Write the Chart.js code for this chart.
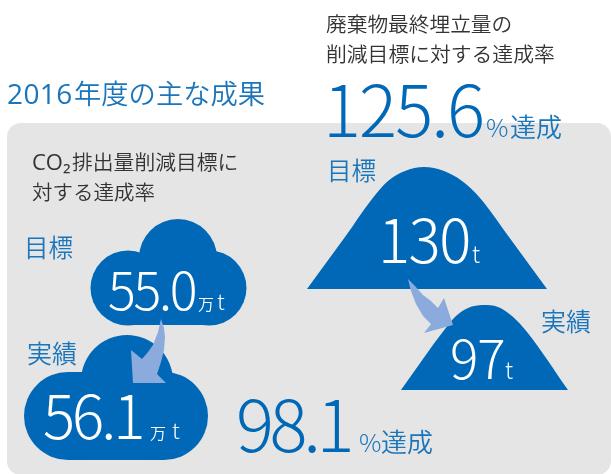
<!DOCTYPE html>
<html lang="ja">
<head>
<meta charset="utf-8">
<style>html,body{margin:0;padding:0;background:#fff}canvas{display:block}</style>
<script src="https://cdn.jsdelivr.net/npm/chart.js@4/dist/chart.umd.js"></script>
</head>
<body>
<canvas id="c" width="611" height="474"></canvas>
<script>
// Values
const co2Tons = ["55.0", "56.1"];      // target, actual (万t)
const wasteTons = ["130", "97"];       // target, actual (t)
const achievementRates = ["98.1", "125.6"]; // CO2, waste (%)
const headings = ["2016", "年度の主な成果", "CO₂", "排出量削減目標に", "対する達成率", "廃棄物最終埋立量の", "削減目標に対する達成率"];
const seriesNames = ["目標", "実績"];

// Pictogram outlines, in page units of the hidden x / y scales
const toPts = a => a.map(([x, y]) => ({x, y}));
const mountainTarget = toPts([[307,289],[345,237],[372,199],[388,181],[405,171],[424,167],[444,171],[462,181],[480,198],[509,237],[547,289]]);
const mountainActual = toPts([[401,390],[445,329],[456,316],[468,308],[483,305],[498,307],[512,316],[527,332],[568,390]]);
const cloudTargetLobes = toPts([[128,288],[209,288],[178,258]]).map((p,i)=>({...p, r:[37.5,37.5,39][i]}));
const cloudActualLobes = toPts([[68,416],[164,416],[127,381]]).map((p,i)=>({...p, r:[44,44,46][i]}));
const cloudTargetBody = toPts([[128,255],[209,255],[209,325],[128,325]]);
const cloudActualBody = toPts([[68,372],[164,372],[164,460],[68,460]]);
const arrowCo2 = toPts([[161,319],[164,328],[165,337],[164,350],[161,362],[157,374],[166,383],[133,383],[131,350],[142,359],[148,352],[153,345],[158,332]]);
const arrowWaste = toPts([[408,279],[415,286],[423,295],[431,301],[438,308],[444,298],[453,325],[424,333],[431,324],[423,316],[416,304],[411,291]]);

const BLUE = "#0068b7", ARROW = "#8aabdb", PANEL = "#e5e5e5", TEXTBLUE = "#1a75bb", INK = "#333333";
const JP = '"Noto Sans CJK JP"', LATIN = '"Open Sans"';

const shape = (data, color) => ({type:"line", data, fill:"shape", backgroundColor:color, borderColor:color, borderWidth:0, pointRadius:0, tension:0});
const hill = (data) => ({...shape(data, BLUE), cubicInterpolationMode:"monotone"});
const lobes = (data) => ({type:"bubble", data, backgroundColor:BLUE, borderColor:BLUE, borderWidth:0, hoverRadius:0});

const texts = [
  [headings[0], 7, 104, 28, 400, TEXTBLUE, 0.4, LATIN],
  [headings[1], 74, 104, 27.3, 350, TEXTBLUE, 0],
  [headings[2], 32, 170, 22, 400, INK, 0, LATIN],
  [headings[3], 72, 170, 20.8, 350, INK, 0],
  [headings[4], 32, 200, 20.5, 350, INK, 0],
  [headings[5], 326, 32, 20.7, 350, INK, 0],
  [headings[6], 326, 62, 20.8, 350, INK, 0],
  [achievementRates[1], 323, 137, 71, 300, BLUE, -1.9],
  ["%", 486, 137, 25, 300, TEXTBLUE, 0],
  ["達成", 510, 137, 26, 350, TEXTBLUE, 0],
  [seriesNames[0], 327, 180, 24.5, 350, TEXTBLUE, 0],
  [wasteTons[0], 378, 263, 60, 300, "#fff", -1.5],
  ["t", 472, 263, 23, 300, "#fff", 0],
  [seriesNames[1], 541, 331, 25, 350, TEXTBLUE, 0],
  [wasteTons[1], 450, 379, 53, 300, "#fff", -1],
  ["t", 505, 379, 23, 300, "#fff", 0],
  [seriesNames[0], 24, 257, 24.5, 350, TEXTBLUE, 0],
  [co2Tons[0], 108, 310, 52, 300, "#fff", -2.3],
  ["万", 198, 310, 16, 350, "#fff", 0],
  ["t", 217, 310, 22, 300, "#fff", 0],
  [seriesNames[1], 27, 363, 25, 350, TEXTBLUE, 0],
  [co2Tons[1], 43, 439, 60, 300, "#fff", -3],
  ["万", 150, 439, 16, 350, "#fff", 0],
  ["t", 172, 439, 22, 300, "#fff", 0],
  [achievementRates[0], 236, 452, 71, 300, BLUE, -4.4],
  ["%", 359, 452, 25, 300, TEXTBLUE, 0],
  ["達成", 381, 452, 26, 350, TEXTBLUE, 0]
];

const panelPlugin = {
  id: "panel",
  beforeDatasetsDraw(chart) {
    const {ctx, scales:{x, y}} = chart;
    ctx.save();
    ctx.fillStyle = PANEL;
    ctx.beginPath();
    ctx.roundRect(x.getPixelForValue(7), y.getPixelForValue(123), 604, 352, 14);
    ctx.fill();
    ctx.restore();
  },
  afterDatasetsDraw(chart) {
    const {ctx, scales:{x, y}} = chart;
    ctx.save();
    ctx.textBaseline = "alphabetic";
    for (const [s, px, py, size, weight, color, ls, family] of texts) {
      ctx.font = `${weight} ${size}px ${family || JP}`;
      ctx.letterSpacing = ls + "px";
      ctx.fillStyle = color;
      ctx.fillText(s, x.getPixelForValue(px), y.getPixelForValue(py));
    }
    ctx.restore();
  }
};

new Chart(document.getElementById("c"), {
  type: "scatter",
  data: { datasets: [
    shape(arrowCo2, ARROW),
    shape(arrowWaste, ARROW),
    hill(mountainTarget),
    hill(mountainActual),
    lobes(cloudTargetLobes),
    shape(cloudTargetBody, BLUE),
    lobes(cloudActualLobes),
    shape(cloudActualBody, BLUE)
  ]},
  options: {
    responsive: false,
    animation: false,
    events: [],
    layout: { padding: 0, autoPadding: false },
    plugins: { legend: {display:false}, tooltip: {enabled:false}, title: {display:false} },
    scales: {
      x: { type:"linear", min:0, max:611, display:false },
      y: { type:"linear", min:0, max:474, reverse:true, display:false }
    }
  },
  plugins: [panelPlugin]
});
</script>
</body>
</html>
